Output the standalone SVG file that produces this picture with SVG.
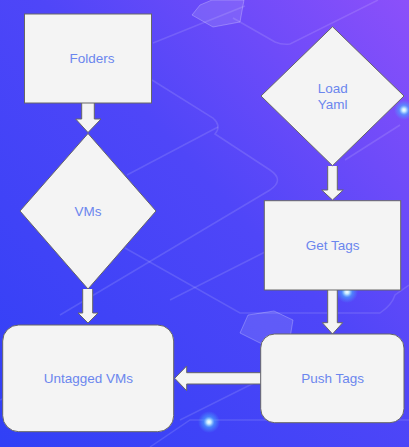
<svg xmlns="http://www.w3.org/2000/svg" width="409" height="447" viewBox="0 0 409 447">
<defs>
<linearGradient id="bg" x1="0" y1="1" x2="1" y2="0">
<stop offset="0" stop-color="#3040f6"/>
<stop offset="0.55" stop-color="#4f46f8"/>
<stop offset="1" stop-color="#8c50fa"/>
</linearGradient>
<radialGradient id="glow">
<stop offset="0" stop-color="#ffffff"/>
<stop offset="0.2" stop-color="#bfe6ff"/>
<stop offset="0.5" stop-color="#4aa8ff" stop-opacity="0.6"/>
<stop offset="1" stop-color="#4aa0ff" stop-opacity="0"/>
</radialGradient>
<style>
.shape{fill:#f4f4f4;stroke:#666666;stroke-width:1}
.lbl{font-family:"Liberation Sans",Arial,sans-serif;font-size:13.5px;fill:#6b86ee;text-anchor:middle}
.deco{fill:none;stroke:#ffffff;stroke-opacity:0.13;stroke-width:1.5}
.hex{fill:#ffffff;fill-opacity:0.12;stroke:#ffffff;stroke-opacity:0.25}
</style>
</defs>
<rect width="409" height="447" fill="url(#bg)"/>
<g id="background-decor">
<path class="deco" d="M153,43 L245,6"/>
<path class="deco" d="M233,18 L275,42 Q282,45 290,44 L378,0"/>
<path class="deco" d="M152,80 L213,118 Q222,126 215,134 L270,170 Q285,180 270,190 L60,315"/>
<path class="deco" d="M127,175 L218,127"/>
<path class="deco" d="M170,300 L265,252"/>
<path class="deco" d="M125,248 L240,313 L380,313 Q392,305 395,295 L409,285"/>
<path class="deco" d="M400,125 L345,160"/>
<path class="deco" d="M180,420 L260,380"/>
<path class="deco" d="M150,447 L190,420 L409,420"/>
<path class="deco" d="M0,400 L60,370"/>
<polygon class="hex" points="200,5 212,0 244,0 240,22 213,27 192,15"/>
<polygon class="hex" points="248,315 274,311 293,320 290,338 262,344 240,333"/>
<circle cx="404" cy="110" r="10" fill="url(#glow)"/>
<circle cx="347" cy="292" r="11" fill="url(#glow)"/>
<circle cx="209" cy="422" r="11" fill="url(#glow)"/>
</g>
<g id="connectors">
<path class="shape" d="M81.7,103 L81.7,119 L75.7,119 L88,132.5 L101,119 L94.3,119 L94.3,103"/>
<path class="shape" d="M82.7,289 L82.7,313 L78,313 L88,323 L98,313 L92.7,313 L92.7,289"/>
<path class="shape" d="M327.7,166 L327.7,190 L321.7,190 L332.5,200 L343.3,190 L337.3,190 L337.3,166"/>
<path class="shape" d="M327.7,290 L327.7,322.7 L322.3,322.7 L332.5,334 L342.7,322.7 L337.3,322.7 L337.3,290"/>
<path class="shape" d="M260.7,372.7 L186.7,372.7 L186.7,366 L174.7,378.3 L186.7,390.7 L186.7,384 L260.7,384"/>
</g>
<g id="node-folders">
<rect class="shape" x="24.5" y="14" width="127" height="89"/>
<text class="lbl" x="92" y="63">Folders</text>
</g>
<g id="node-vms">
<polygon class="shape" points="88,133.5 156,211 88,289 20,211"/>
<text class="lbl" x="88" y="216">VMs</text>
</g>
<g id="node-untagged">
<rect class="shape" x="2.7" y="325" width="171" height="106.7" rx="16" ry="16"/>
<text class="lbl" x="88.3" y="383">Untagged VMs</text>
</g>
<g id="node-load-yaml">
<polygon class="shape" points="332.5,26.7 404,96 332.5,165.7 261,96"/>
<text class="lbl" x="332.7" y="93">Load</text>
<text class="lbl" x="332.7" y="109">Yaml</text>
</g>
<g id="node-get-tags">
<rect class="shape" x="264.3" y="200.7" width="136.4" height="89.3"/>
<text class="lbl" x="332.7" y="250">Get Tags</text>
</g>
<g id="node-push-tags">
<rect class="shape" x="260.7" y="334" width="143.3" height="88.7" rx="14" ry="14"/>
<text class="lbl" x="332.7" y="383">Push Tags</text>
</g>
</svg>
